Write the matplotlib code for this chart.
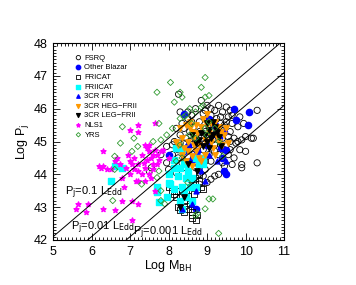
import numpy as np
import matplotlib.pyplot as plt
from matplotlib.ticker import MultipleLocator

plt.rcParams['font.family'] = ['Liberation Sans', 'DejaVu Sans']

# FSRQ (open black circles)
fsrq_x = [8.26, 8.85, 9.0, 9.3, 9.2, 9.6, 9.95, 10.3, 10.2, 10.15, 10.0, 9.9, 9.9, 10.3, 9.65, 8.9, 8.6, 9.0, 9.1, 8.0,
          7.5, 7.55, 7.8, 8.3, 8.1, 7.95, 8.6, 9.8, 9.7, 9.6, 9.75, 9.55, 9.4, 9.3, 9.2, 8.8, 8.95, 8.7, 8.2, 8.3,
          8.15, 8.35, 8.5, 8.7, 8.9, 9.1, 9.4, 9.5, 9.45, 9.6, 9.35, 9.25, 9.15, 9.0, 8.8, 8.65, 8.55, 8.45, 8.4, 8.6,
          8.75, 8.9, 9.05, 9.2, 9.35, 9.5, 9.55, 9.4, 9.25, 9.1, 8.95, 8.8, 8.7, 8.55, 8.85, 9.0, 9.15, 9.3, 9.45, 9.55,
          9.65, 9.2, 9.05, 8.9, 8.65, 8.5, 8.35, 8.45, 8.25, 8.3, 9.3, 9.6, 9.7, 9.45, 9.8, 9.85, 9.9, 10.0, 9.65, 9.85,
          8.5, 8.95, 9.1, 9.5, 8.4, 8.6, 9.05, 9.35, 8.25, 8.1, 8.95, 9.1, 9.45, 8.7, 7.95, 8.45, 8.2, 8.8]
fsrq_y = [46.44, 46.25, 46.1, 46.1, 45.95, 45.95, 45.55, 45.95, 45.1, 45.1, 44.7, 44.3, 44.2, 44.35, 44.3, 43.95, 43.8, 43.75, 43.85, 44.15,
          44.1, 44.2, 44.6, 45.9, 44.9, 44.85, 45.8, 45.45, 45.1, 45.0, 44.95, 44.6, 44.35, 44.0, 43.95, 44.5, 44.4, 44.2, 45.4, 45.2,
          45.0, 45.55, 45.7, 46.0, 45.85, 45.8, 45.9, 45.6, 45.35, 45.3, 45.55, 45.7, 45.55, 45.65, 45.6, 45.45, 45.3, 45.1, 44.95, 44.9,
          44.8, 45.0, 44.95, 44.9, 44.9, 44.9, 45.15, 45.1, 45.2, 45.35, 45.3, 45.3, 45.15, 45.0, 45.1, 45.1, 45.05, 45.35, 45.5, 45.75,
          45.55, 44.7, 44.6, 44.75, 44.6, 44.55, 44.35, 44.75, 44.75, 44.95, 44.6, 44.75, 44.5, 44.75, 45.0, 44.75, 45.05, 45.15, 45.8, 45.75,
          45.9, 45.95, 46.0, 46.05, 45.4, 45.6, 45.45, 45.75, 44.5, 44.6, 44.15, 44.4, 44.25, 44.35, 44.35, 44.2, 44.05, 43.7]

# Other Blazar (filled blue circles)
blz_x = [9.7, 10.1, 10.05, 9.75, 9.45, 9.35, 9.5, 9.45, 9.5, 8.7, 8.4, 8.75, 8.0, 8.5, 9.0, 9.2, 9.3, 9.1, 8.75, 9.4, 8.85, 8.4, 9.05, 8.6]
blz_y = [46.0, 45.9, 45.5, 45.65, 45.3, 44.8, 44.75, 44.1, 44.0, 42.95, 44.7, 44.7, 44.6, 44.85, 44.9, 45.5, 45.1, 45.2, 45.0, 44.5, 44.3, 45.85, 45.7, 44.45]

# FRICAT (open black squares)
fri_x = [8.72, 8.6, 8.6, 8.5, 8.45, 8.4, 8.3, 8.2, 8.1, 8.15, 8.3, 8.65, 8.75, 8.85, 8.7, 8.6, 8.8, 8.9, 8.55, 8.35,
         8.5, 8.45, 8.2, 8.25, 8.7, 8.8, 8.75, 8.6, 8.0, 8.4]
fri_y = [42.6, 42.75, 42.68, 42.95, 43.05, 43.2, 43.3, 43.5, 43.5, 43.4, 42.9, 43.4, 43.55, 43.6, 43.7, 43.85, 43.8, 43.55, 43.1, 43.55,
         43.35, 43.45, 43.3, 43.0, 43.9, 44.0, 42.75, 42.85, 43.6, 42.85]

# FRIICAT (filled cyan squares)
frii_x = [6.5, 6.6, 6.8, 7.7, 7.7, 7.75, 7.95, 8.0, 8.0, 8.15, 8.2, 8.35, 8.15, 8.3, 8.4, 8.25, 8.45, 8.5, 8.55, 8.35,
          8.3, 8.35, 8.6, 8.7, 8.7, 8.8, 8.9, 8.6, 8.4, 8.15, 8.05, 8.45, 8.9]
frii_y = [43.8, 44.25, 44.2, 43.6, 43.45, 43.15, 43.3, 43.75, 44.0, 44.45, 44.8, 44.75, 44.2, 44.2, 44.3, 43.95, 43.9, 44.1, 43.6, 43.6,
          43.2, 42.95, 43.2, 43.6, 44.5, 44.3, 44.5, 43.9, 43.5, 43.55, 43.7, 43.3, 44.3]

# 3CR FRI (blue up triangles)
c3fri_x = [8.35, 8.6, 8.7, 8.95, 9.25, 9.5, 8.85, 9.05]
c3fri_y = [42.95, 43.1, 43.5, 43.8, 44.4, 44.4, 44.1, 44.6]

# 3CR HEG-FRII (orange down triangles)
heg_x = [8.3, 8.45, 8.55, 8.6, 8.65, 8.5, 8.4, 8.35, 8.45, 8.6, 8.7, 8.8, 8.75, 8.85, 8.9, 9.0, 9.05, 9.1, 9.15, 9.2,
         9.25, 9.3, 9.35, 9.45, 9.5, 9.4, 8.95, 8.85, 8.6, 8.5, 8.25, 8.2, 8.55, 8.7, 9.0, 9.2, 8.8, 9.3, 8.95, 8.65,
         9.1, 9.55, 8.35]
heg_y = [45.4, 45.5, 45.6, 45.3, 45.1, 45.0, 44.8, 44.6, 44.4, 44.55, 44.7, 44.9, 45.25, 45.45, 45.7, 45.5, 45.25, 45.0, 44.8, 44.6,
         45.15, 45.45, 45.3, 45.2, 45.4, 44.9, 44.6, 44.4, 44.25, 44.7, 44.9, 45.0, 45.4, 45.5, 45.85, 45.6, 44.5, 45.0, 45.05, 44.9,
         45.55, 44.95, 45.1]

# 3CR LEG-FRII (black down triangles)
leg_x = [8.75, 8.4, 8.95, 9.05, 9.15, 9.2, 9.0, 8.9, 9.1, 9.25, 8.85, 9.05, 9.3, 9.15, 8.8, 8.7, 9.35, 9.0, 8.6, 8.5, 8.3]
leg_y = [44.1, 43.3, 45.2, 45.35, 45.2, 45.45, 45.0, 44.85, 45.1, 45.3, 45.25, 44.8, 45.15, 45.6, 45.05, 44.95, 44.85, 45.55, 45.2, 44.3, 43.0]

# NLS1 (magenta stars)
nls_x = [5.6, 5.65, 5.85, 5.9, 6.3, 6.6, 6.8, 6.85, 7.05, 7.05, 7.2, 7.2, 6.3, 6.25, 6.3, 6.4, 6.5, 6.6, 6.65, 6.8,
         6.95, 7.0, 7.05, 7.1, 7.2, 7.3, 7.2, 7.2, 7.4, 7.5, 7.45, 7.5, 7.55, 7.6, 7.65, 7.7, 7.7, 7.8, 7.75, 7.4,
         7.3, 7.2, 7.15, 7.35, 7.45, 7.6, 7.55, 7.4, 7.5, 7.6, 6.75, 6.9, 7.0, 7.1, 7.65, 7.65, 7.85, 8.0, 7.0, 6.2]
nls_y = [42.95, 43.1, 42.85, 43.1, 42.95, 42.9, 43.2, 43.6, 43.2, 42.6, 43.1, 43.8, 44.7, 44.2, 44.25, 44.15, 44.15, 44.4, 44.5, 43.9,
         44.6, 44.4, 44.3, 44.5, 44.3, 44.6, 45.5, 45.3, 44.9, 44.9, 44.8, 44.7, 44.5, 44.6, 44.75, 44.6, 44.3, 44.7, 44.45, 44.2,
         44.0, 44.1, 43.8, 44.35, 44.45, 44.15, 43.9, 43.8, 44.0, 44.3, 44.3, 44.2, 44.0, 44.15, 43.5, 45.55, 44.75, 44.5, 45.35, 44.25]

# YRS (open green diamonds)
yrs_x = [7.7, 8.05, 8.15, 8.35, 8.3, 8.95, 8.85, 8.95, 9.05, 8.9, 8.55, 8.7, 8.85, 8.4, 8.45, 8.3, 6.8, 6.75, 7.05, 7.2,
         7.1, 7.6, 7.8, 7.95, 8.1, 8.3, 8.35, 7.75, 7.7, 7.8, 7.8, 6.6, 6.55, 7.3, 7.9, 9.05, 9.15, 8.95, 8.75, 8.7,
         9.3, 9.4, 9.3, 9.0, 8.55, 8.95, 8.6, 8.7, 9.05, 9.2, 8.5, 6.6, 7.75, 8.2]
yrs_y = [46.5, 46.8, 46.2, 46.35, 46.5, 46.95, 46.65, 46.35, 46.4, 46.1, 46.0, 45.9, 46.05, 45.75, 45.8, 45.7, 45.45, 44.95, 44.7, 44.85,
         45.1, 45.0, 45.05, 45.2, 45.4, 44.9, 44.5, 44.1, 43.9, 43.5, 43.2, 44.15, 43.2, 43.7, 43.1, 43.25, 43.25, 42.95, 42.8, 42.75,
         42.2, 44.55, 45.0, 45.2, 45.2, 45.4, 45.55, 45.1, 45.6, 45.4, 43.75, 44.55, 45.55, 44.4]

# Eddington ratio lines
edd_ratios = [0.1, 0.01, 0.001]

fig = plt.figure(figsize=(3.56, 2.85), dpi=100)
ax = fig.add_axes([0.149, 0.158, 0.649, 0.691])

lw = 0.6
ax.scatter(fsrq_x, fsrq_y, s=20, facecolors='none', edgecolors='black', linewidths=lw, label='FSRQ')
ax.scatter(blz_x, blz_y, s=20, color='blue', label='Other Blazar')
ax.scatter(fri_x, fri_y, s=18, marker='s', facecolors='none', edgecolors='black', linewidths=lw, label='FRICAT')
ax.scatter(frii_x, frii_y, s=22, marker='s', color='cyan', label='FRIICAT')
ax.scatter(c3fri_x, c3fri_y, s=12, marker='^', color='blue', label='3CR FRI')
ax.scatter(heg_x, heg_y, s=15, marker='v', color='#ff9900', label='3CR HEG\u2212FRII')
ax.scatter(leg_x, leg_y, s=15, marker='v', color='black', label='3CR LEG\u2212FRII')
ax.scatter(nls_x, nls_y, s=14, marker='*', color='magenta', label='NLS1')
ax.scatter(yrs_x, yrs_y, s=10, marker='D', facecolors='none', edgecolors='#2e9a2e', linewidths=lw, label='YRS')

xx = np.array([5, 11])
for r in edd_ratios:
    ax.plot(xx, 38.1 + np.log10(r) + xx, color='black', lw=0.7)

ax.text(5.3, 43.35, r'P$_{\rm j}$=0.1 L$_{\rm Edd}$', fontsize=8)
ax.text(5.47, 42.3, r'P$_{\rm j}$=0.01 L$_{\rm Edd}$', fontsize=8)
ax.text(7.07, 42.16, r'P$_{\rm j}$=0.001 L$_{\rm Edd}$', fontsize=8)

ax.set_xlim(5, 11)
ax.set_ylim(42, 48)
ax.xaxis.set_major_locator(MultipleLocator(1))
ax.xaxis.set_minor_locator(MultipleLocator(0.1))
ax.yaxis.set_major_locator(MultipleLocator(1))
ax.yaxis.set_minor_locator(MultipleLocator(0.1))
ax.tick_params(which='both', direction='in', top=True, right=True, labelsize=9, width=0.6)
ax.tick_params(which='major', length=5, pad=4)
ax.tick_params(which='minor', length=2)
for s in ax.spines.values():
    s.set_linewidth(0.8)

ax.set_xlabel(r'Log M$_{\rm BH}$', fontsize=9, labelpad=0)
ax.set_ylabel(r'Log P$_{\rm j}$', fontsize=9, labelpad=2)

ax.legend(loc='upper left', bbox_to_anchor=(0.07, 0.97), frameon=False, fontsize=5.5,
          markerscale=0.7, handletextpad=0.3, labelspacing=0.3, borderpad=0.2, handlelength=1.0)

fig.savefig('out.png', dpi=100)
